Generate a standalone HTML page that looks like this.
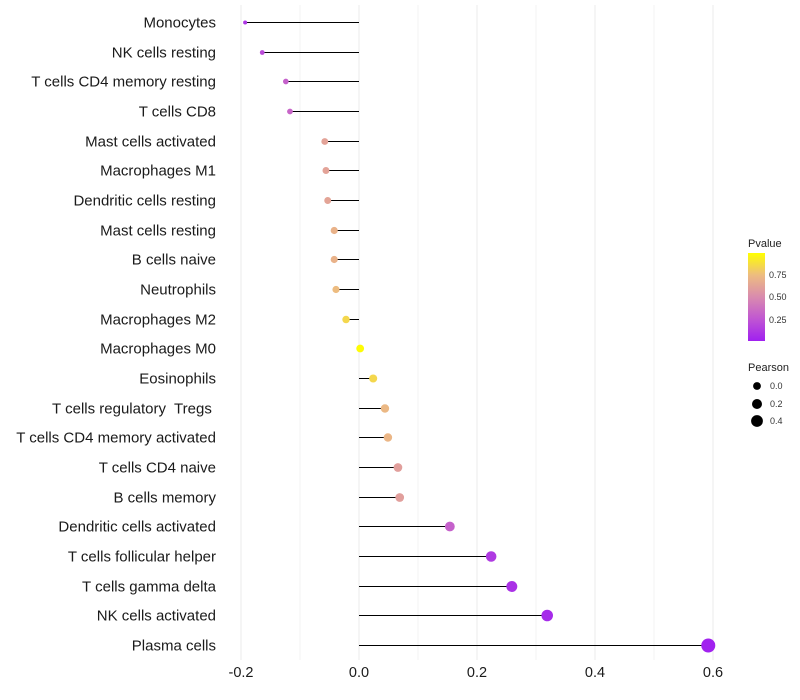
<!DOCTYPE html>
<html><head><meta charset="utf-8"><style>
body{margin:0;background:#fff}
svg{display:block;font-family:"Liberation Sans",Arial,sans-serif}
</style></head><body>
<svg id="c" width="800" height="700" xmlns="http://www.w3.org/2000/svg">
<defs><linearGradient id="pg" x1="0" y1="1" x2="0" y2="0">
<stop offset="0" stop-color="#A020F0"/><stop offset="0.25" stop-color="#C056D2"/><stop offset="0.5" stop-color="#D98BAE"/><stop offset="0.75" stop-color="#EDBC80"/><stop offset="1" stop-color="#FFFF00"/></linearGradient></defs>
<g id="grid"></g><g id="marks"></g><g id="ylab"></g><g id="xlab"></g>
<g>
<text x="748" y="247" font-size="11" fill="#222">Pvalue</text>
<rect x="748" y="253" width="17" height="88" fill="url(#pg)"/>
<text x="769" y="278" font-size="9" fill="#333">0.75</text>
<text x="769" y="300" font-size="9" fill="#333">0.50</text>
<text x="769" y="323" font-size="9" fill="#333">0.25</text>
</g>
<g>
<text x="748" y="371" font-size="11" fill="#222">Pearson</text>
<circle cx="757" cy="386" r="3.9" fill="#000"/>
<text x="770" y="389" font-size="9" fill="#333">0.0</text>
<circle cx="757" cy="404" r="5" fill="#000"/>
<text x="770" y="407" font-size="9" fill="#333">0.2</text>
<circle cx="757" cy="421" r="5.9" fill="#000"/>
<text x="770" y="424" font-size="9" fill="#333">0.4</text>
</g>
</svg>
<script>
const categories=["Monocytes","NK cells resting","T cells CD4 memory resting","T cells CD8","Mast cells activated","Macrophages M1","Dendritic cells resting","Mast cells resting","B cells naive","Neutrophils","Macrophages M2","Macrophages M0","Eosinophils","T cells regulatory\u00a0 Tregs\u00a0","T cells CD4 memory activated","T cells CD4 naive","B cells memory","Dendritic cells activated","T cells follicular helper","T cells gamma delta","NK cells activated","Plasma cells"];
const pearson=[-0.193,-0.164,-0.124,-0.117,-0.058,-0.056,-0.053,-0.042,-0.042,-0.039,-0.022,0.002,0.024,0.044,0.049,0.066,0.069,0.154,0.224,0.259,0.319,0.592];
const pvalues=[0.1,0.2,0.3,0.32,0.62,0.62,0.63,0.7,0.7,0.75,0.85,0.99,0.85,0.73,0.72,0.6,0.6,0.3,0.12,0.08,0.05,0.01];
const xTicks=[-0.2,0,0.2,0.4,0.6];
const xTickLabels=["-0.2","0.0","0.2","0.4","0.6"];
const minorGrid=[-0.2,-0.1,0,0.1,0.2,0.3,0.4,0.5,0.6];
const NS="http://www.w3.org/2000/svg";
const X=v=>359+v*590;
const Y=i=>Math.round(22+i*(623/(categories.length-1)))+0.5;
const R=v=>Math.sqrt(Math.max(2,15.1+57.3*v));
const stops=[[0,[160,32,240]],[0.25,[192,86,210]],[0.5,[217,139,174]],[0.75,[237,188,128]],[1,[255,255,0]]];
function col(p){p=Math.max(0,Math.min(1,p));for(let k=1;k<stops.length;k++){if(p<=stops[k][0]){const a=stops[k-1],b=stops[k],t=(p-a[0])/(b[0]-a[0]);return "rgb("+a[1].map((c,j)=>Math.round(c+(b[1][j]-c)*t)).join(",")+")";}}}
function mk(t,a,parent){const e=document.createElementNS(NS,t);for(const k in a)e.setAttribute(k,a[k]);parent.appendChild(e);return e;}
const g=document.getElementById("grid"),m=document.getElementById("marks"),yl=document.getElementById("ylab"),xl=document.getElementById("xlab");
minorGrid.forEach(v=>{const l=mk("line",{x1:X(v),x2:X(v),y1:5,y2:660,stroke:"#ebebeb","stroke-width":Math.abs(v*10%2)>0.5?0.6:1},g);

});
categories.forEach((c,i)=>{
const y=Y(i);
const s=mk("line",{x1:X(0),x2:X(pearson[i]),y1:y,y2:y,stroke:"#000","stroke-width":1,"shape-rendering":"crispEdges"},m);


const d=mk("circle",{cx:X(pearson[i]),cy:y,r:R(pearson[i]),fill:col(pvalues[i])},m);


const t=mk("text",{x:216,y:y+5,"text-anchor":"end","font-size":15,fill:"#1a1a1a"},yl);
t.textContent=c;


});
xTicks.forEach((v,i)=>{const t=mk("text",{x:X(v),y:677,"text-anchor":"middle","font-size":14.5,fill:"#1a1a1a"},xl);
t.textContent=xTickLabels[i];

});
</script>
</body></html>
